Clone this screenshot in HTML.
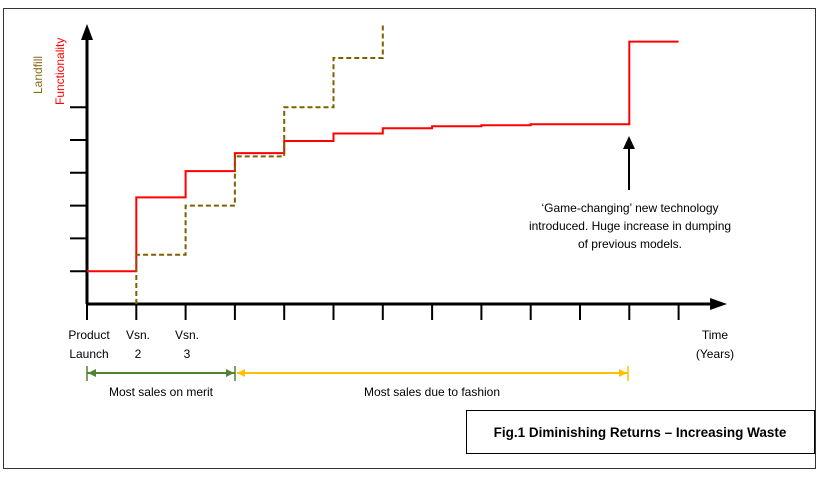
<!DOCTYPE html>
<html><head><meta charset="utf-8"><style>
body{margin:0;background:#fff;}
svg{display:block;font-family:"Liberation Sans",sans-serif;}
</style></head><body>
<svg id="chart" width="829" height="481" viewBox="0 0 829 481">
<rect x="3.5" y="8.5" width="812" height="460" fill="#fff" stroke="#333" stroke-width="1"/>
<g id="axes"></g>
<g id="series"></g>
<text transform="translate(42,94) rotate(-90)" fill="#8a6d1a" font-size="12">Landfill</text>
<text transform="translate(64,105) rotate(-90)" fill="#ff0000" font-size="12">Functionality</text>
<g font-size="12" fill="#000" text-anchor="middle">
<text x="89" y="339">Product</text>
<text x="89" y="358">Launch</text>
<text x="138" y="339">Vsn.</text>
<text x="138" y="358">2</text>
<text x="187" y="339">Vsn.</text>
<text x="187" y="358">3</text>
<text x="715" y="339">Time</text>
<text x="715" y="358">(Years)</text>
<text x="161" y="396">Most sales on merit</text>
<text x="432" y="396">Most sales due to fashion</text>
<text x="630" y="212">‘Game-changing’ new technology</text>
<text x="630" y="230">introduced. Huge increase in dumping</text>
<text x="630" y="248">of previous models.</text>
</g>
<g>
<line x1="629" y1="190" x2="629" y2="148" stroke="#000" stroke-width="2"/>
<polygon points="623,149 635,149 629,136" fill="#000"/>
</g>
<g stroke="#538135" fill="#538135">
<line x1="87" y1="373" x2="235" y2="373" stroke-width="2"/>
<line x1="87" y1="366" x2="87" y2="381" stroke-width="1.5"/>
<line x1="235" y1="366" x2="235" y2="381" stroke-width="1.5"/>
<polygon points="88,373 96,369 96,377" stroke="none"/>
<polygon points="234,373 226,369 226,377" stroke="none"/>
</g>
<g stroke="#ffc000" fill="#ffc000">
<line x1="237" y1="373" x2="628" y2="373" stroke-width="2"/>
<line x1="628" y1="366" x2="628" y2="381" stroke-width="1.5"/>
<polygon points="237,373 245,369 245,377" stroke="none"/>
<polygon points="627,373 619,369 619,377" stroke="none"/>
</g>
<g>
<rect x="466.5" y="410.5" width="348" height="43" fill="#fff" stroke="#000" stroke-width="1"/>
<text x="640" y="437" text-anchor="middle" font-size="13.5" font-weight="bold">Fig.1 Diminishing Returns – Increasing Waste</text>
</g>
</svg>
<script>
const xCategories=[0,1,2,3,4,5,6,7,8,9,10,11,12];
const yTicks=[1,2,3,4,5,6];
const functionalityValues=[1,3.25,4.05,4.6,4.97,5.2,5.36,5.42,5.45,5.48,5.48,8,8];
const landfillValues=[null,1.5,3,4.5,6,7.5,8.5];
const NS="http://www.w3.org/2000/svg";
const x0=87,dx=49.3,y0=304,dy=32.8;
function sx(i){return x0+i*dx;}
function sy(v){return y0-v*dy;}
function mk(tag,attrs,parent){const e=document.createElementNS(NS,tag);for(const k in attrs)e.setAttribute(k,attrs[k]);parent.appendChild(e);return e;}
const axes=document.getElementById('axes');
const series=document.getElementById('series');
let e;
e=mk('line',{x1:x0,y1:y0,x2:x0,y2:38,stroke:'#000','stroke-width':3},axes);


e=mk('polygon',{points:`${x0-6},40 ${x0+6},40 ${x0},24`,fill:'#000'},axes);


e=mk('line',{x1:x0,y1:y0,x2:712,y2:y0,stroke:'#000','stroke-width':3},axes);


e=mk('polygon',{points:`710,${y0-6} 710,${y0+6} 727,${y0}`,fill:'#000'},axes);


yTicks.forEach(t=>{
 const l=mk('line',{x1:70,x2:x0,y1:sy(t),y2:sy(t),stroke:'#000','stroke-width':2},axes);
 
 
});
xCategories.forEach(c=>{
 const l=mk('line',{x1:sx(c),x2:sx(c),y1:y0,y2:320,stroke:'#000','stroke-width':2},axes);
 
 
});
// functionality step line
let d='';
for(let i=0;i<functionalityValues.length-1;i++){
 const v=functionalityValues[i];
 d+=(i===0?'M':'L')+sx(i)+','+sy(v)+' L'+sx(i+1)+','+sy(v)+' ';
 if(i+1<functionalityValues.length-1)d+='L'+sx(i+1)+','+sy(functionalityValues[i+1])+' ';
}
e=mk('path',{d:d,fill:'none',stroke:'#ff0000','stroke-width':2},series);


// landfill dashed step line
let d2='M'+sx(1)+','+y0+' ';
for(let i=1;i<landfillValues.length;i++){
 const v=landfillValues[i];
 d2+='L'+sx(i)+','+sy(v)+' ';
 if(i<landfillValues.length-1)d2+='L'+sx(i+1)+','+sy(v)+' ';
}
e=mk('path',{d:d2,fill:'none',stroke:'#7f6000','stroke-width':2,'stroke-dasharray':'5,3'},series);


</script>
</body></html>
